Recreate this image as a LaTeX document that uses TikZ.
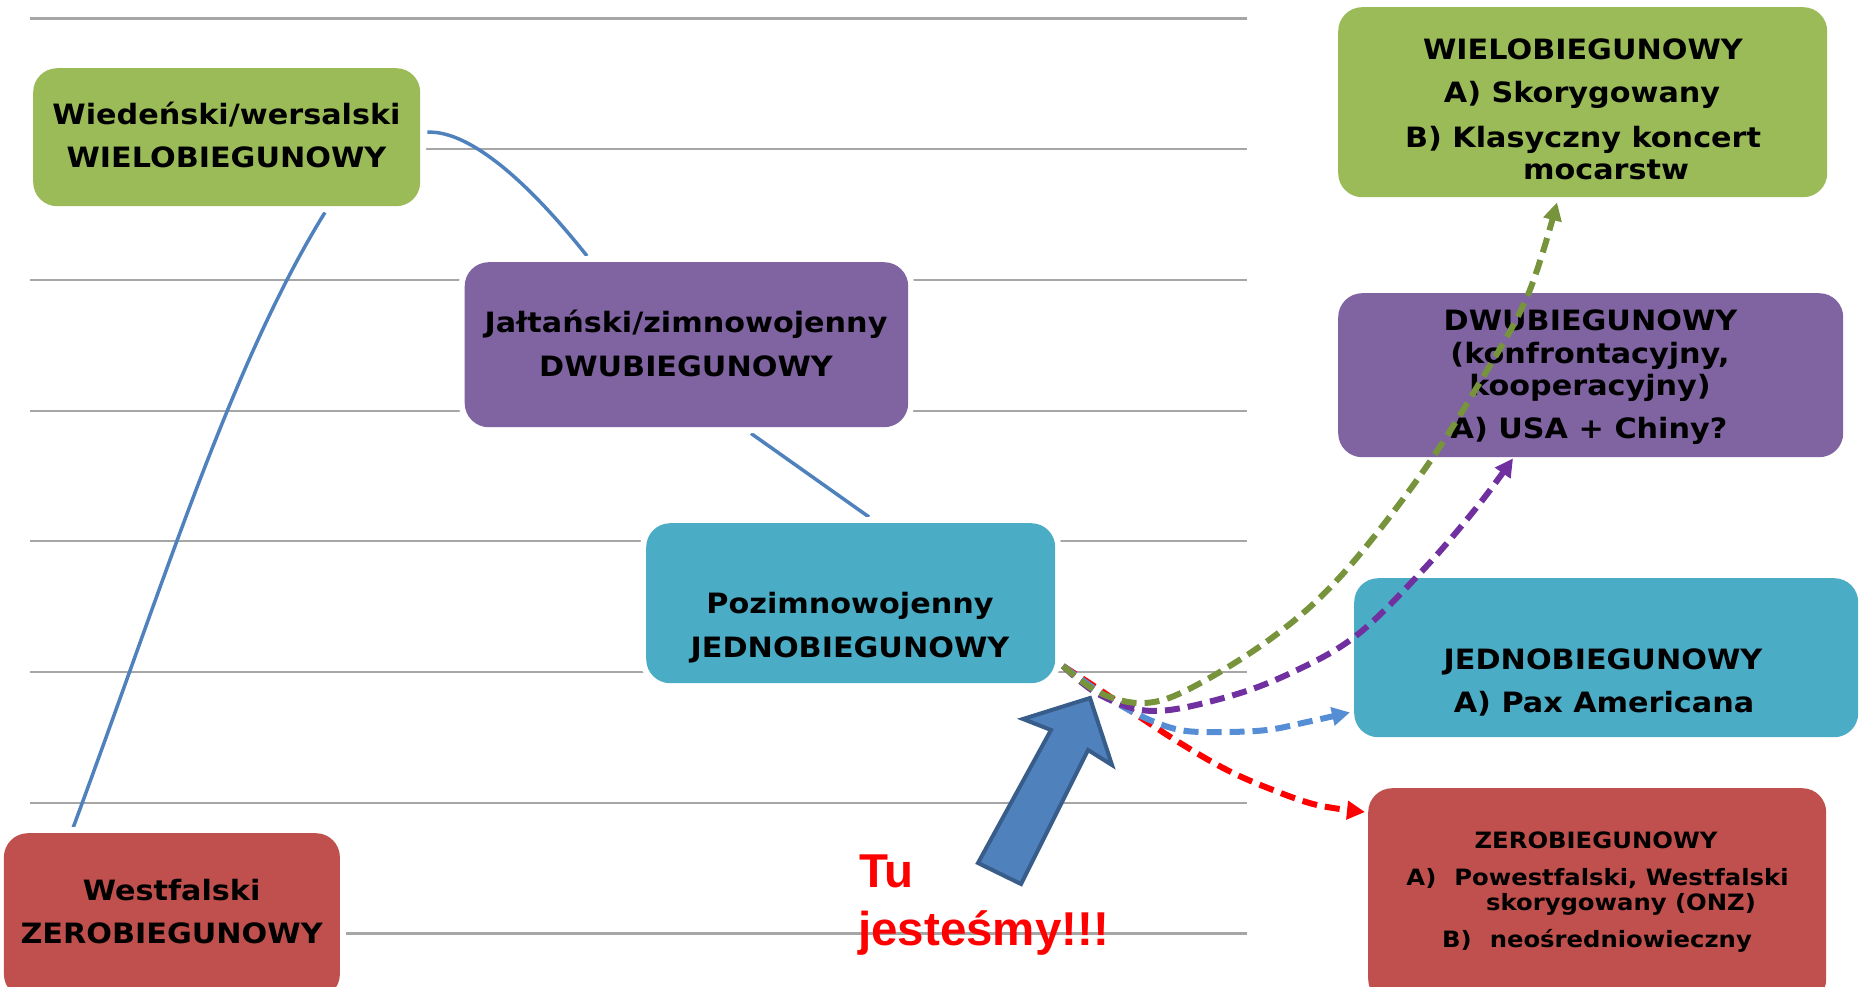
\documentclass[tikz,border=0pt]{standalone}
\usepackage{fontspec}
\usetikzlibrary{arrows.meta,backgrounds,calc}
\newfontfamily\vfont{DejaVu Sans}[FakeStretch=1.08]
\newfontfamily\afont{Liberation Sans}
\definecolor{bgreen}{HTML}{9BBB59}
\definecolor{bpurple}{HTML}{8064A2}
\definecolor{bteal}{HTML}{4BACC6}
\definecolor{bred}{HTML}{C0504D}
\definecolor{lblue}{HTML}{4F81BD}
\definecolor{adark}{HTML}{385D8A}
\definecolor{gridgray}{HTML}{A6A6A6}
\definecolor{dgreen}{HTML}{77933C}
\definecolor{dpurple}{HTML}{7030A0}
\definecolor{dblue}{HTML}{558ED5}
\definecolor{dred}{HTML}{FF0000}
\begin{document}
\begin{tikzpicture}[x=1pt,y=-1pt,
  box/.style={rounded corners=24pt, inner sep=0pt, anchor=north west,
              preaction={draw=white,line width=12pt}},
  big/.style={font=\vfont\bfseries\fontsize{28}{32}\selectfont, inner sep=0pt, anchor=base},
  small/.style={font=\vfont\bfseries\fontsize{22.5}{26}\selectfont, inner sep=0pt, anchor=base},
  tutext/.style={font=\afont\bfseries\fontsize{47.5}{55}\selectfont, text=dred, inner sep=0pt, anchor=base west},
  gridline/.style={draw=gridgray, line width=2.2pt},
  conn/.style={draw=lblue, line width=3.5pt},
  darrow/.style={line width=6pt, dash pattern=on 15pt off 8pt, -{Triangle[length=18pt,width=18pt]}},
]
\useasboundingbox (0,0) rectangle (1861,987);
\clip (0,0) rectangle (1861,987);

% boxes
\node[box, fill=bgreen,  minimum width=387pt,   minimum height=138pt] (wien)   at (33,68) {};
\node[box, fill=bpurple, minimum width=443.5pt, minimum height=165pt] (jalta)  at (464.5,262) {};
\node[box, fill=bteal,   minimum width=409pt,   minimum height=160pt] (pozim)  at (646,523) {};
\node[box, fill=bred,    minimum width=336pt,   minimum height=165pt] (westf)  at (3.7,833) {};
\node[box, fill=bgreen,  minimum width=489pt,   minimum height=190pt] (wieloR) at (1338,7) {};
\node[box, fill=bpurple, minimum width=505pt,   minimum height=164pt] (dwuR)   at (1338,293) {};
\node[box, fill=bteal,   minimum width=504pt,   minimum height=159pt] (jednoR) at (1354,578) {};
\node[box, fill=bred,    minimum width=458pt,   minimum height=215pt] (zeroR)  at (1368,788) {};

\begin{pgfonlayer}{background}
  \foreach \yy in {18.5,149.2,279.9,410.6,541.3,672,802.7,933.4}
    \draw[gridline] (30,\yy) -- (1247,\yy);
  \draw[conn] ($(westf.north west)+(69.3,-5)$) .. controls +(92.5,-250) and +(-93,150) .. ($(wien.south west)+(292,6)$);
  \draw[conn] ($(wien.east)+(7,-5)$) .. controls +(43,-2) and +(-57,-72) .. ($(jalta.north west)+(122.5,-6)$);
  \draw[conn] ($(jalta.south west)+(286.5,6)$) -- ($(pozim.north west)+(223,-6)$);
\end{pgfonlayer}

% texts in left boxes
\node[big] (wienA) at (226.5,125) {Wiedeński/wersalski};
\node[big] (wienB) at (226.5,168) {WIELOBIEGUNOWY};
\node[big] (jaltaA) at (686,332) {Jałtański/zimnowojenny};
\node[big] (jaltaB) at (686,376) {DWUBIEGUNOWY};
\node[big] (pozimA) at (850,613) {Pozimnowojenny};
\node[big] (pozimB) at (850,657) {JEDNOBIEGUNOWY};
\node[big] (westfA) at (171.6,900) {Westfalski};
\node[big] (westfB) at (171.6,943) {ZEROBIEGUNOWY};

% texts in right boxes
\node[big] (wieloA) at (1583,60) {WIELOBIEGUNOWY};
\node[big] (wieloB) at (1582,103) {A) Skorygowany};
\node[big] (wieloC) at (1583,148) {B) Klasyczny koncert};
\node[big] (wieloD) at (1606,180) {mocarstw};
\node[big] (dwuA) at (1590.5,330) {DWUBIEGUNOWY};
\node[big] (dwuB) at (1590,363) {(konfrontacyjny,};
\node[big] (dwuC) at (1590,395) {kooperacyjny)};
\node[big] (dwuD) at (1589,438) {A) USA + Chiny?};
\node[big] (jednoA) at (1603,669) {JEDNOBIEGUNOWY};
\node[big] (jednoB) at (1604,712) {A) Pax Americana};
\node[small] (zeroA) at (1596,848) {ZEROBIEGUNOWY};
\node[small] (zeroB) at (1597.5,885) {A)\hspace{18pt}Powestfalski, Westfalski};
\node[small] (zeroC) at (1621,910) {skorygowany (ONZ)};
\node[small] (zeroD) at (1597,947) {B)\hspace{18pt}neośredniowieczny};

% "Tu jestesmy" and block arrow
\node[tutext] (tuA) at (859,887) {Tu};
\node[tutext] (tuB) at (858,945) {jesteśmy!!!};
\draw[fill=lblue, draw=adark, line width=4pt, line join=miter]
  (1090,698) -- (1112,765) -- (1088,750) -- (1021,884) -- (978,863) -- (1051,730) -- (1023,719) -- cycle;

% dashed arrows
\coordinate (o) at (1063,666);
\coordinate (tipG) at ($(wieloR.south west)+(219,5)$);
\coordinate (tipP) at ($(dwuR.south west)+(175,1)$);
\coordinate (tipB) at ($(jednoR.south west)+(-4,-25)$);
\coordinate (tipR) at ($(zeroR.north west)+(-3,24)$);
\draw[darrow, dred] plot[smooth, tension=0.6] coordinates {(o) (1100,690) (1140,717) (1180,743) (1227,770) (1273,790) (1317,805) (tipR)};
\draw[darrow, dblue] plot[smooth, tension=0.6] coordinates {(o) (1107,697) (1143,717) (1180,730) (1220,732) (1267,730) (1307,722) (tipB)};
\draw[darrow, dpurple] plot[smooth, tension=0.6] coordinates {(o) (1100,695) (1153,711) (1227,697) (1293,672) (1357,635) (1423,570) (1477,507) (tipP)};
\draw[darrow, dgreen] plot[smooth, tension=0.6] coordinates {(o) (1100,693) (1145,703) (1193,687) (1273,637) (1340,577) (1417,480) (1477,387) (1527,297) (tipG)};
\end{tikzpicture}
\end{document}
